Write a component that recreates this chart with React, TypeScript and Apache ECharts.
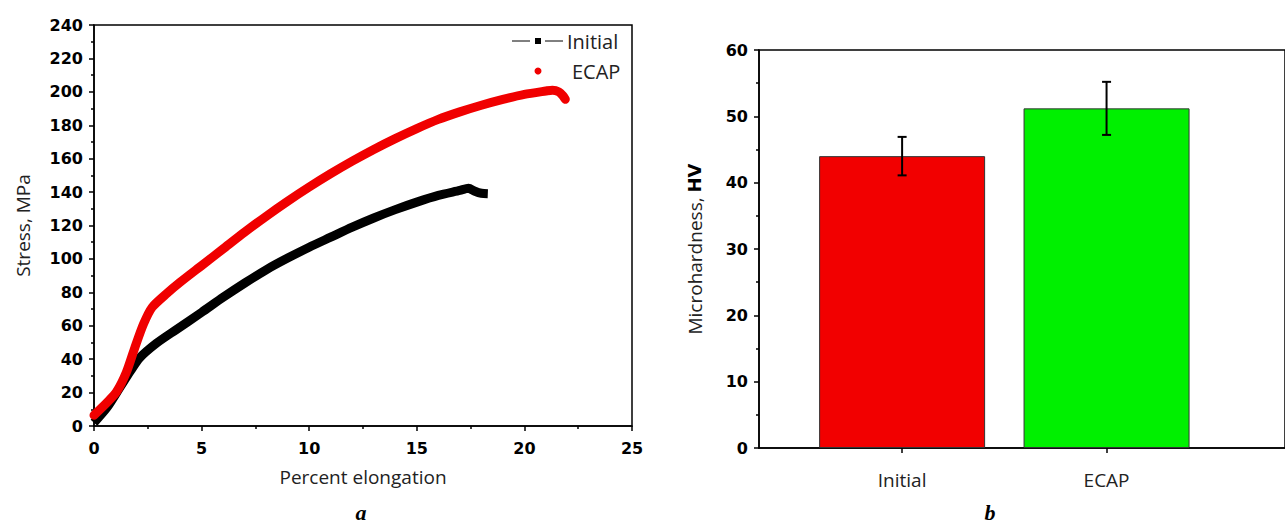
import React, { useEffect, useRef } from 'react';
import * as echarts from 'echarts';

// ---- Data ----
const initialStrain = [0, 0.6, 1.2, 1.7, 2.1, 2.9, 3.8, 5, 6, 7, 8, 9, 10, 11, 12, 13, 14, 15, 16, 17, 17.4, 17.7, 18.0, 18.3];
const initialStress = [2, 11, 23, 33, 40.5, 49.5, 57.5, 68, 77, 85.5, 93.5, 100.5, 107, 113, 119, 124.5, 129.5, 134, 138, 141, 142.3, 140.5, 139.3, 139];
const ecapStrain = [0, 0.6, 1.05, 1.5, 1.9, 2.3, 2.7, 3.4, 4, 5, 6, 7, 8, 9, 10, 11, 12, 13, 14, 15, 16, 17, 18, 19, 20, 21, 21.3, 21.6, 21.8, 21.9];
const ecapStress = [6.5, 14, 20.5, 32, 47, 61, 71, 79.5, 86, 96, 106, 116, 125.5, 134.5, 143, 151, 158.5, 165.5, 172, 178, 183.5, 188, 192, 195.5, 198.5, 200.5, 201, 200, 197.5, 195.5];

const categories = ['Initial', 'ECAP'];
const hardness = [44, 51.2];
const hardnessErr = [2.9, 4.0];
const barColors = ['#f20000', '#00f000'];

const seriesNames = ['Initial', 'ECAP'];

const TICK_FONT = 'DejaVu Sans';
const TEXT_FONT = 'Open Sans';

export default function App() {
  const ref = useRef<HTMLDivElement>(null);

  useEffect(() => {
    if (!ref.current) return;
    const chart = echarts.init(ref.current, undefined, { renderer: 'svg' });

    const axisLineStyle = { color: '#000', width: 1.5 };
    const tickLabel = { color: '#000', fontFamily: TICK_FONT, fontWeight: 'bold' as const, fontSize: 16 };
    const titleStyle = { color: '#222', fontFamily: TEXT_FONT, fontSize: 19 };

    const option: any = {
      animation: false,
      backgroundColor: '#fff',
      grid: [
        { left: 94, top: 25, width: 538, height: 401, show: true, borderColor: '#000', borderWidth: 1.5 },
        { left: 759, top: 50, width: 530, height: 398, show: true, borderColor: '#000', borderWidth: 1.5 },
      ],
      xAxis: [
        {
          gridIndex: 0, type: 'value', min: 0, max: 25, interval: 5,
          axisLine: { show: true, onZero: false, lineStyle: axisLineStyle },
          axisTick: { show: true, length: 5, lineStyle: axisLineStyle },
          minorTick: { show: true, splitNumber: 2, length: 3, lineStyle: axisLineStyle },
          splitLine: { show: false },
          axisLabel: { ...tickLabel, margin: 14 },
          name: 'Percent elongation', nameLocation: 'middle', nameGap: 41,
          nameTextStyle: titleStyle,
        },
        {
          gridIndex: 1, type: 'value', min: 0.3, max: 0.3 + 530 / 206,
          axisLine: { show: true, onZero: false, lineStyle: axisLineStyle },
          axisTick: { show: true, length: 5, lineStyle: axisLineStyle, customValues: [1, 2] },
          splitLine: { show: false },
          axisLabel: {
            color: '#222', fontFamily: TEXT_FONT, fontSize: 19, margin: 22,
            customValues: [1, 2],
            formatter: (v: number) => categories[Math.round(v) - 1] ?? '',
          },
        },
      ],
      yAxis: [
        {
          gridIndex: 0, type: 'value', min: 0, max: 240, interval: 20,
          axisLine: { show: true, onZero: false, lineStyle: axisLineStyle },
          axisTick: { show: true, length: 5, lineStyle: axisLineStyle },
          minorTick: { show: true, splitNumber: 2, length: 3, lineStyle: axisLineStyle },
          splitLine: { show: false },
          axisLabel: { ...tickLabel, margin: 11 },
          name: 'Stress, MPa', nameLocation: 'middle', nameGap: 62,
          nameTextStyle: titleStyle,
        },
        {
          gridIndex: 1, type: 'value', min: 0, max: 60, interval: 10,
          axisLine: { show: true, onZero: false, lineStyle: axisLineStyle },
          axisTick: { show: true, length: 5, lineStyle: axisLineStyle },
          minorTick: { show: true, splitNumber: 2, length: 3, lineStyle: axisLineStyle },
          splitLine: { show: false },
          axisLabel: { ...tickLabel, margin: 11 },
          name: 'Microhardness, {b|HV}', nameLocation: 'middle', nameGap: 55,
          nameTextStyle: { ...titleStyle, rich: { b: { fontFamily: TICK_FONT, fontWeight: 'bold', fontSize: 18, color: '#000' } } },
        },
      ],
      series: [
        {
          name: seriesNames[0], type: 'line', xAxisIndex: 0, yAxisIndex: 0,
          data: initialStrain.map((x, i) => [x, initialStress[i]]),
          showSymbol: false, smooth: 0.25,
          lineStyle: { color: '#000', width: 9, cap: 'butt', join: 'round' },
          z: 2,
        },
        {
          name: seriesNames[1], type: 'line', xAxisIndex: 0, yAxisIndex: 0,
          data: ecapStrain.map((x, i) => [x, ecapStress[i]]),
          showSymbol: false, smooth: 0.25,
          lineStyle: { color: '#f00000', width: 9, cap: 'round', join: 'round' },
          z: 3,
        },
        {
          name: 'Microhardness', type: 'bar', xAxisIndex: 1, yAxisIndex: 1,
          barWidth: 166,
          data: categories.map((c, i) => ({
            value: [i + 1, hardness[i]],
            itemStyle: { color: barColors[i], borderColor: '#333', borderWidth: 1 },
          })),
          z: 2,
        },
        {
          name: 'Error', type: 'custom', xAxisIndex: 1, yAxisIndex: 1,
          data: categories.map((c, i) => [i + 1, hardness[i] - hardnessErr[i], hardness[i] + hardnessErr[i]]),
          renderItem: (params: any, api: any) => {
            const lo = api.coord([api.value(0), api.value(1)]);
            const hi = api.coord([api.value(0), api.value(2)]);
            const w = 4.5;
            const st = { stroke: '#000', lineWidth: 2 };
            return {
              type: 'group',
              children: [
                { type: 'line', shape: { x1: lo[0], y1: lo[1], x2: hi[0], y2: hi[1] }, style: st },
                { type: 'line', shape: { x1: lo[0] - w, y1: lo[1], x2: lo[0] + w, y2: lo[1] }, style: st },
                { type: 'line', shape: { x1: hi[0] - w, y1: hi[1], x2: hi[0] + w, y2: hi[1] }, style: st },
              ],
            };
          },
          z: 10,
        },
      ],
      graphic: [
        // legend of panel a
        { type: 'line', shape: { x1: 512, y1: 41, x2: 530, y2: 41 }, style: { stroke: '#000', lineWidth: 1 } },
        { type: 'rect', shape: { x: 535, y: 38, width: 6, height: 6 }, style: { fill: '#000' } },
        { type: 'line', shape: { x1: 545, y1: 41, x2: 563, y2: 41 }, style: { stroke: '#000', lineWidth: 1 } },
        { type: 'text', x: 567, y: 41, style: { text: seriesNames[0], fontFamily: TEXT_FONT, fontSize: 20, fill: '#222', verticalAlign: 'middle' } },
        { type: 'circle', shape: { cx: 538, cy: 71, r: 3.5 }, style: { fill: '#f00000' } },
        { type: 'text', x: 572, y: 71, style: { text: seriesNames[1], fontFamily: TEXT_FONT, fontSize: 20, fill: '#222', verticalAlign: 'middle' } },
        // panel labels
        { type: 'text', x: 361, y: 512, style: { text: 'a', fontFamily: 'Liberation Serif', fontStyle: 'italic', fontWeight: 'bold', fontSize: 22, fill: '#000', align: 'center', verticalAlign: 'middle' } },
        { type: 'text', x: 990, y: 512, style: { text: 'b', fontFamily: 'Liberation Serif', fontStyle: 'italic', fontWeight: 'bold', fontSize: 22, fill: '#000', align: 'center', verticalAlign: 'middle' } },
      ],
    };

    chart.setOption(option);
    return () => chart.dispose();
  }, []);

  return <div ref={ref} style={{ position: 'absolute', left: 0, top: 0, width: 1285, height: 524 }} />;
}
